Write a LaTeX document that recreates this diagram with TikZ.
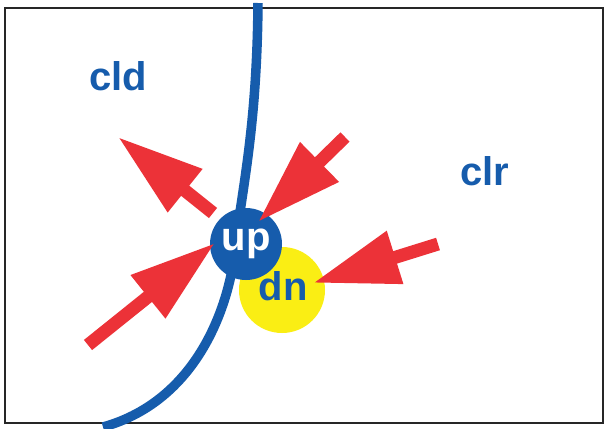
\documentclass[tikz,border=0pt]{standalone}
\usepackage{fontspec}
\setmainfont{Liberation Sans}
\usetikzlibrary{arrows.meta}
\definecolor{cblue}{RGB}{22,92,172}
\definecolor{cred}{RGB}{236,50,56}
\definecolor{cyellow}{RGB}{250,238,20}
\tikzset{
  bigarrow/.style={draw=cred, line width=13pt,
    -{Triangle[length=86pt,width=52pt,fill=cred]}},
  lbl/.style={text=cblue, font=\bfseries\fontsize{40}{40}\selectfont, inner sep=0pt},
}
\begin{document}
\begin{tikzpicture}[x=1pt,y=-1pt]
\useasboundingbox (0,0) rectangle (606,429);
\fill[white] (0,0) rectangle (606,429);
% frame
\draw[line width=2pt, black!85] (5,8) rectangle (603,423);
% blue curve
\draw[cblue, line width=9.5pt] (258,3) .. controls (257,120) and (244,180) .. (236,240)
  .. controls (232,300) and (200,400) .. (103,427);
% yellow circle and dn
\node[circle, fill=cyellow, minimum size=86pt, inner sep=0pt] (dnc) at (282,290) {};
\node[lbl] (dn) at (283,286) {dn};
% up circle
\node[circle, fill=cblue, minimum size=72pt, inner sep=0pt, text=white,
      font=\bfseries\fontsize{40}{40}\selectfont] (up) at (246,244) {up};
% labels
\node[lbl] (cld) at (118,76) {cld};
\node[lbl] (clr) at (485,171) {clr};
% arrows
\coordinate (a1s) at (213,213); \coordinate (a1e) at (118,137);
\coordinate (a2s) at (345,137); \coordinate (a2e) at (258,222);
\coordinate (a3s) at (88,345);  \coordinate (a3e) at (215,243);
\coordinate (a4s) at (438,244); \coordinate (a4e) at (313,283);
\draw[bigarrow] (a1s) -- (a1e);
\draw[bigarrow] (a2s) -- (a2e);
\draw[bigarrow] (a3s) -- (a3e);
\draw[bigarrow] (a4s) -- (a4e);
\end{tikzpicture}
\end{document}
